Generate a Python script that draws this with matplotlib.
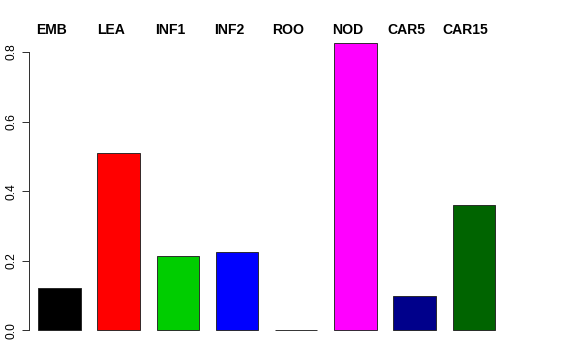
import numpy as np
import matplotlib
matplotlib.use("Agg")
import matplotlib.pyplot as plt

OUT_PNG = "out.png"

# dati
TISSUES = ["EMB", "LEA", "INF1", "INF2", "ROO", "NOD", "CAR5", "CAR15"]
VALUES = [0.121, 0.511, 0.214, 0.2255, 0.001, 0.826, 0.099, 0.3605]
COLORS = ["#000000", "#FF0000", "#00CD00", "#0000FF", "#FFD700",
          "#FF00FF", "#00008B", "#006400"]
Y_TICKS = [0.0, 0.2, 0.4, 0.6, 0.8]

BAR_WIDTH = 0.715
LABEL_SHIFT = 0.135   # etichette leggermente a sinistra del centro barra
LABEL_Y = 0.863

plt.rcParams["font.family"] = ["Liberation Sans", "DejaVu Sans"]

fig = plt.figure(figsize=(8, 5), dpi=72)
ax = fig.add_axes([0.0503, 0.0556, 0.9375 - 0.0503, 0.9306 - 0.0556])

x = np.arange(len(TISSUES))
ax.bar(x, VALUES, width=BAR_WIDTH, color=COLORS,
       edgecolor="#222222", linewidth=0.9)

ax.set_xlim(-0.515, 8.12)
ax.set_ylim(-0.0273, 0.8776)

for xi, name in zip(x, TISSUES):
    ax.text(xi - LABEL_SHIFT, LABEL_Y, name, ha="center", va="center",
            fontsize=14, fontweight="bold", clip_on=False)

# asse y stile R
for s in ["top", "right", "bottom"]:
    ax.spines[s].set_visible(False)
ax.spines["left"].set_bounds(0, 0.8)
ax.spines["left"].set_linewidth(1.0)
ax.spines["left"].set_color("#333333")
ax.set_yticks(Y_TICKS)
ax.set_yticklabels([f"{v:.1f}" for v in Y_TICKS], rotation=90,
                   va="center", fontsize=12)
ax.tick_params(axis="y", length=7, width=1.0, color="#333333", pad=4)
ax.set_xticks([])

fig.savefig(OUT_PNG, dpi=72)
